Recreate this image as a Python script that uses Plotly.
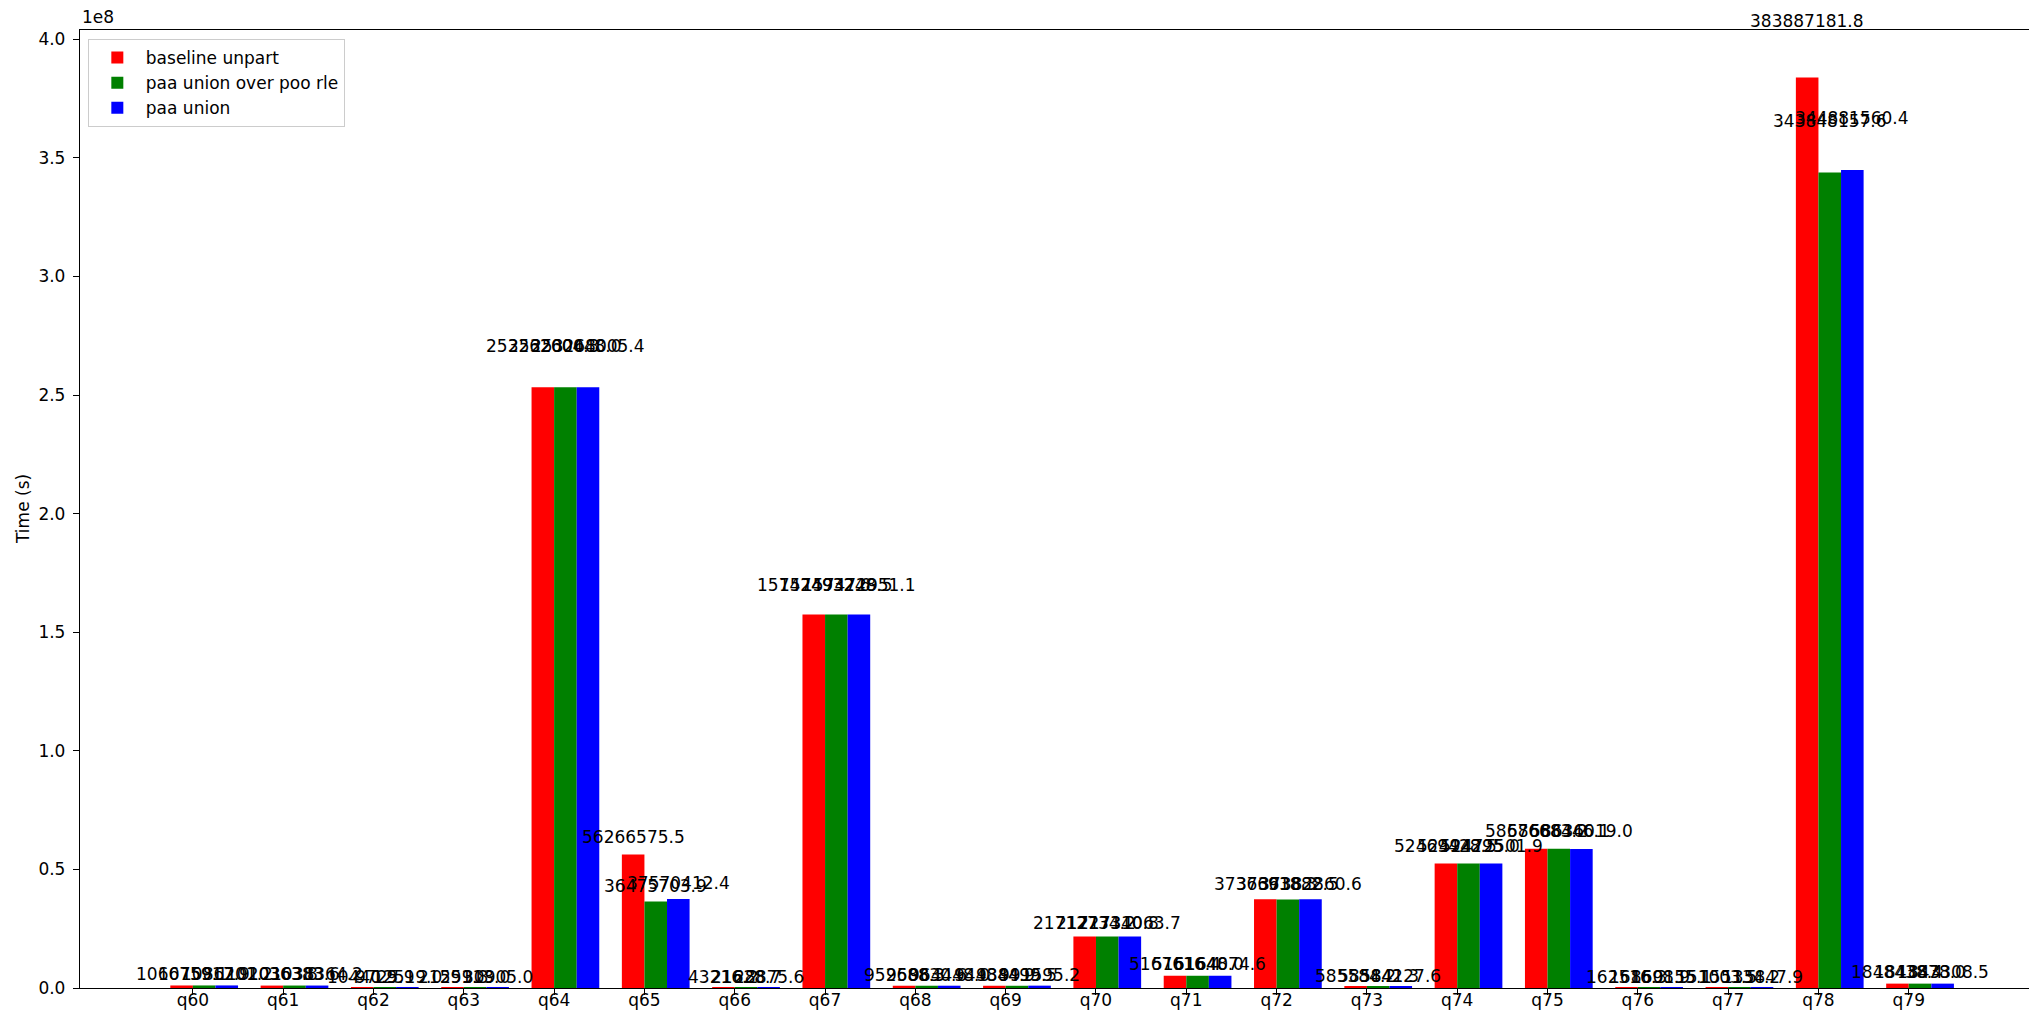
import plotly.graph_objects as go

# ---------------- data ----------------
queries = ["q60", "q61", "q62", "q63", "q64", "q65", "q66", "q67", "q68", "q69",
           "q70", "q71", "q72", "q73", "q74", "q75", "q76", "q77", "q78", "q79"]

baseline_unpart = [1066759.1, 1020363.8, 10440.9, 21591.8, 253262004.3,
                   56266575.5, 43216.2, 157424932.6, 952688.3, 944844.9,
                   21712734.2, 5167616.4, 37366918.3, 585584.2, 52469428.5,
                   58676683.2, 162516.3, 151003.5, 383887181.8, 1848438.4]

paa_union_over_poo_rle = [1075917.9, 1036383.6, 9725.9, 25913.0, 253260048.0,
                          36475703.9, 21628.7, 157493248.5, 950830.6, 938499.5,
                          21727310.8, 5161648.0, 37363882.5, 585842.3, 52494295.0,
                          58688446.1, 168698.9, 155134.2, 343848157.6, 1843878.0]

paa_union = [1086201.2, 1038364.2, 12519.0, 30905.0, 253268005.4,
             37570412.4, 28875.6, 157472951.1, 964448.0, 991595.2,
             21734063.7, 5164074.6, 37382860.6, 584127.6, 52472501.9,
             58636019.0, 150155.1, 135847.9, 344881560.4, 1843308.5]

series_names = ["baseline unpart", "paa union over poo rle", "paa union"]
series_values = [baseline_unpart, paa_union_over_poo_rle, paa_union]
series_colors = ["#ff0000", "#008000", "#0000ff"]

y_tick_values = [0, 0.5e8, 1.0e8, 1.5e8, 2.0e8, 2.5e8, 3.0e8, 3.5e8, 4.0e8]
y_tick_labels = ["0.0", "0.5", "1.0", "1.5", "2.0", "2.5", "3.0", "3.5", "4.0"]

# ---------------- style ----------------
FONT = "DejaVu Sans"
FS = 17
BAR_W = 0.25
BAR_OFFSETS = [-0.25, 0.0, 0.25]   # left edge of each series' bar relative to the tick
LABEL_FACTOR = 1.05

idx = list(range(len(queries)))

fig = go.Figure()
annotations = []
for name, vals, color, off in zip(series_names, series_values, series_colors, BAR_OFFSETS):
    fig.add_trace(go.Bar(
        x=idx, y=vals, name=name, width=BAR_W, offset=off,
        marker=dict(color=color, line=dict(width=0)),
    ))
    for i, v in zip(idx, vals):
        annotations.append(dict(
            x=i + off + BAR_W / 2, y=v * LABEL_FACTOR, xref="x", yref="y",
            text=f"{v:.1f}", showarrow=False, xanchor="center", yanchor="bottom",
            font=dict(family=FONT, size=FS, color="#000000"), borderpad=0,
        ))

# offset text "1e8"
annotations.append(dict(
    x=0, y=1, xref="paper", yref="paper", text="1e8", showarrow=False,
    xanchor="left", yanchor="bottom", yshift=1,
    font=dict(family=FONT, size=FS, color="#000000"),
))
# y axis label
annotations.append(dict(
    x=0, y=0.5, xref="paper", yref="paper", text="Time (s)", showarrow=False,
    xanchor="center", yanchor="middle", xshift=-57, textangle=-90,
    font=dict(family=FONT, size=FS, color="#000000"),
))

fig.update_layout(
    width=2029, height=1016,
    margin=dict(l=72, r=0, t=22, b=36, pad=0),
    paper_bgcolor="white", plot_bgcolor="white",
    barmode="overlay",
    font=dict(family=FONT, size=FS, color="#000000"),
    annotations=annotations,
    showlegend=True,
    legend=dict(
        x=0.004, y=0.9906, xanchor="left", yanchor="top",
        bgcolor="white", bordercolor="#cccccc", borderwidth=1,
        font=dict(family=FONT, size=FS, color="#000000"),
        traceorder="normal", itemwidth=47,
    ),
    xaxis=dict(
        range=[-1.25, 20.42],
        tickmode="array", tickvals=idx, ticktext=queries,
        showgrid=False, zeroline=False,
        showline=True, linecolor="#000000", linewidth=1.3, mirror=True,
        ticks="outside", ticklen=6, tickwidth=1.3, tickcolor="#000000",
        ticklabelstandoff=-10,
        tickfont=dict(family=FONT, size=FS, color="#000000"),
    ),
    yaxis=dict(
        range=[0, 4.039e8],
        tickmode="array", tickvals=y_tick_values, ticktext=y_tick_labels,
        showgrid=False, zeroline=False,
        showline=True, linecolor="#000000", linewidth=1.3, mirror=False,
        ticks="outside", ticklen=6, tickwidth=1.3, tickcolor="#000000",
        ticklabelstandoff=4,
        tickfont=dict(family=FONT, size=FS, color="#000000"),
    ),
)

fig.write_html("out.html")
